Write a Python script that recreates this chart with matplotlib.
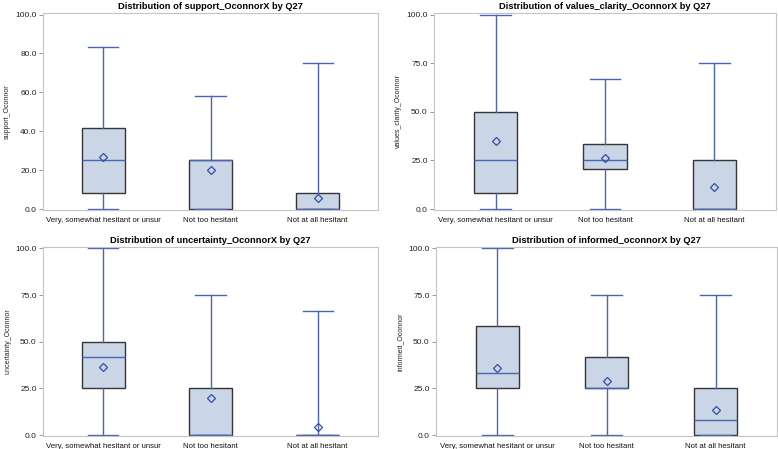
import matplotlib.pyplot as plt

plt.rcParams["font.family"] = ["Liberation Sans", "DejaVu Sans"]

groups = ["Very, somewhat hesitant or unsur", "Not too hesitant", "Not at all hesitant"]

titles = [
    "Distribution of support_OconnorX by Q27",
    "Distribution of values_clarity_OconnorX by Q27",
    "Distribution of uncertainty_OconnorX by Q27",
    "Distribution of informed_oconnorX by Q27",
]
ylabels = ["support_Oconnor", "values_clarity_Oconnor", "uncertainty_Oconnor", "informed_Oconnor"]
yticks = [
    [0, 20, 40, 60, 80, 100],
    [0, 25, 50, 75, 100],
    [0, 25, 50, 75, 100],
    [0, 25, 50, 75, 100],
]

# per panel, per group: min, q1, median, q3, max, mean
support_min = [0, 0, 0]
support_q1 = [8.33, 0, 0]
support_med = [25, 25, 0]
support_q3 = [41.67, 25, 8.33]
support_max = [83.33, 58.33, 75]
support_mean = [26.7, 20.3, 5.6]

clarity_min = [0, 0, 0]
clarity_q1 = [8.33, 20.8, 0]
clarity_med = [25, 25, 0]
clarity_q3 = [50, 33.33, 25]
clarity_max = [100, 66.67, 75]
clarity_mean = [35.0, 26.2, 11.4]

uncert_min = [0, 0, 0]
uncert_q1 = [25, 0, 0]
uncert_med = [41.67, 0, 0]
uncert_q3 = [50, 25, 0]
uncert_max = [100, 75, 66.67]
uncert_mean = [36.7, 19.9, 4.5]

informed_min = [0, 0, 0]
informed_q1 = [25, 25, 0]
informed_med = [33.33, 25, 8.33]
informed_q3 = [58.33, 41.67, 25]
informed_max = [100, 75, 75]
informed_mean = [36.0, 29.0, 13.2]

panels = [
    (support_min, support_q1, support_med, support_q3, support_max, support_mean),
    (clarity_min, clarity_q1, clarity_med, clarity_q3, clarity_max, clarity_mean),
    (uncert_min, uncert_q1, uncert_med, uncert_q3, uncert_max, uncert_mean),
    (informed_min, informed_q1, informed_med, informed_q3, informed_max, informed_mean),
]

# axes rectangles in figure fractions (left, bottom, width, height)
rects = [
    [43 / 778, 1 - 210 / 449, 335 / 778, 197 / 449],
    [434 / 778, 1 - 210 / 449, 342 / 778, 197 / 449],
    [43 / 778, 1 - 436 / 449, 335 / 778, 189 / 449],
    [436 / 778, 1 - 436 / 449, 341 / 778, 189 / 449],
]

blue = "#4866b4"
fill = "#cad5e6"
edge = "#353535"
frame = "#c4c4c4"

fig = plt.figure(figsize=(7.78, 4.49), dpi=100)

for i, (lo, q1, med, q3, hi, mean) in enumerate(panels):
    ax = fig.add_axes(rects[i])
    stats = []
    for j in range(len(groups)):
        stats.append({"whislo": lo[j], "q1": q1[j], "med": med[j], "q3": q3[j],
                      "whishi": hi[j], "mean": mean[j], "fliers": []})
    ax.bxp(stats, positions=[1, 2, 3], widths=0.4, capwidths=0.28,
           showmeans=True, patch_artist=True,
           boxprops=dict(facecolor=fill, edgecolor=edge, linewidth=1.0),
           whiskerprops=dict(color=blue, linewidth=1.0),
           capprops=dict(color=blue, linewidth=1.0),
           medianprops=dict(color=blue, linewidth=1.0),
           meanprops=dict(marker="D", markersize=4, markerfacecolor="none",
                          markeredgecolor="#3050a8", markeredgewidth=0.9))
    ax.set_xlim(0.4375, 3.5625)
    ax.set_ylim(-0.5, 100.8)
    ax.set_yticks(yticks[i])
    ax.set_yticklabels([f"{t:.1f}" for t in yticks[i]])
    ax.set_xticks([1, 2, 3])
    ax.set_xticklabels(groups)
    ax.tick_params(axis="y", labelsize=6, length=3, width=0.6, color="#888888",
                   labelcolor="#222222", pad=1.5)
    ax.tick_params(axis="x", labelsize=5.6, length=0, labelcolor="#111111", pad=5)
    for s in ax.spines.values():
        s.set_color(frame)
        s.set_linewidth(0.8)
    ax.set_ylabel(ylabels[i], fontsize=5, color="#222222", labelpad=3)
    ax.set_title(titles[i], fontsize=6.7, fontweight="bold", pad=3)

fig.savefig("out.png", dpi=100)
